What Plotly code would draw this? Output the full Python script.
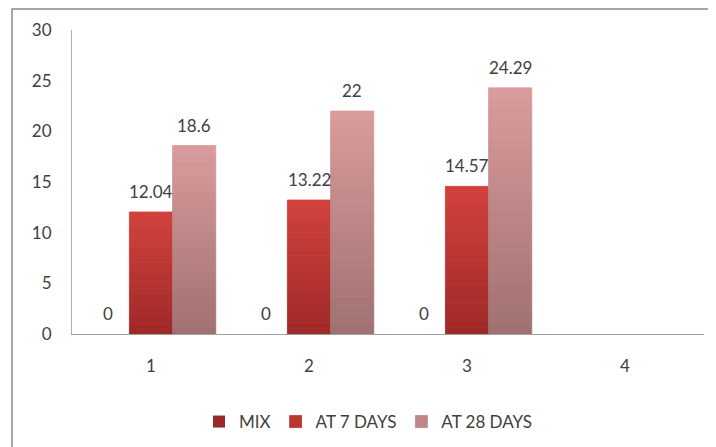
import plotly.graph_objects as go

categories = ["1", "2", "3", "4"]
series_names = ["MIX", "AT 7 DAYS", "AT 28 DAYS"]
mix = [0, 0, 0, None]
at7 = [12.04, 13.22, 14.57, None]
at28 = [18.6, 22, 24.29, None]
y_ticks = [0, 5, 10, 15, 20, 25, 30]

series_values = [mix, at7, at28]
# (top colour, bottom colour) for the vertical gradient of each series
grad = [((172, 52, 50), (125, 32, 32)),
        ((210, 66, 60), (158, 40, 40)),
        ((218, 156, 156), (160, 112, 112))]

N = 24
BARGAP = 0.18
font = "Lato, 'Open Sans', sans-serif"
W, H = 708, 439
L, R, T, B = 64, 12, 22, 113
plot_w = W - L - R
plot_h = H - T - B
slot_px = plot_w / len(categories) * (1 - BARGAP) / len(series_names)

fig = go.Figure()
for s, (name, vals) in enumerate(zip(series_names, series_values)):
    top, bot = grad[s]
    lw = [0.8 if v else 0 for v in vals]
    for k in range(N):
        t = (k + 0.5) / N
        col = "rgb(%d,%d,%d)" % tuple(round(bot[i] + (top[i] - bot[i]) * t) for i in range(3))
        seg = [None if v is None else v / N for v in vals]
        base = [None if v is None else v * k / N for v in vals]
        fig.add_trace(go.Bar(
            x=categories, y=seg, base=base, offsetgroup=str(s),
            marker=dict(color=col, line=dict(width=lw, color=col)),
            name=name, showlegend=(k == N // 2), legendrank=s + 1,
            hoverinfo="skip"))
    for i, v in enumerate(vals):
        if v is None:
            continue
        fig.add_annotation(x=i, y=v, text="%g" % v, showarrow=False,
                           xshift=(s - 1) * slot_px, yshift=8, yanchor="bottom",
                           font=dict(size=17, color="#404040", family=font))

fig.add_shape(type="rect", xref="paper", yref="paper",
              x0=(4 - L) / plot_w, x1=(730 - L) / plot_w,
              y0=-0.5, y1=1 + (T - 1) / plot_h,
              line=dict(color="#8a8a8a", width=1.5), layer="below")

fig.update_layout(
    width=W, height=H,
    margin=dict(l=L, r=R, t=T, b=B, autoexpand=False),
    paper_bgcolor="white", plot_bgcolor="white",
    barmode="group", bargap=BARGAP, bargroupgap=0,
    font=dict(family=font, size=17, color="#404040"),
    showlegend=True,
    legend=dict(orientation="h", x=(360 - L) / plot_w, xanchor="center",
                y=(326 - 414) / plot_h, yanchor="middle",
                font=dict(size=17, color="#404040"),
                itemwidth=30, traceorder="normal"),
)
fig.update_xaxes(type="category", showline=True, linecolor="#a0a0a0", linewidth=1.2,
                 ticks="", showgrid=False, tickfont=dict(size=17, color="#404040"),
                 ticklabelstandoff=16, zeroline=False, automargin=False)
fig.update_yaxes(range=[0, 30], tickvals=y_ticks, showline=True, linecolor="#b0b0b0",
                 linewidth=1, ticks="", showgrid=False, zeroline=False, automargin=False,
                 ticklabelstandoff=16, tickfont=dict(size=17, color="#404040"))

fig.write_html("out.html")
